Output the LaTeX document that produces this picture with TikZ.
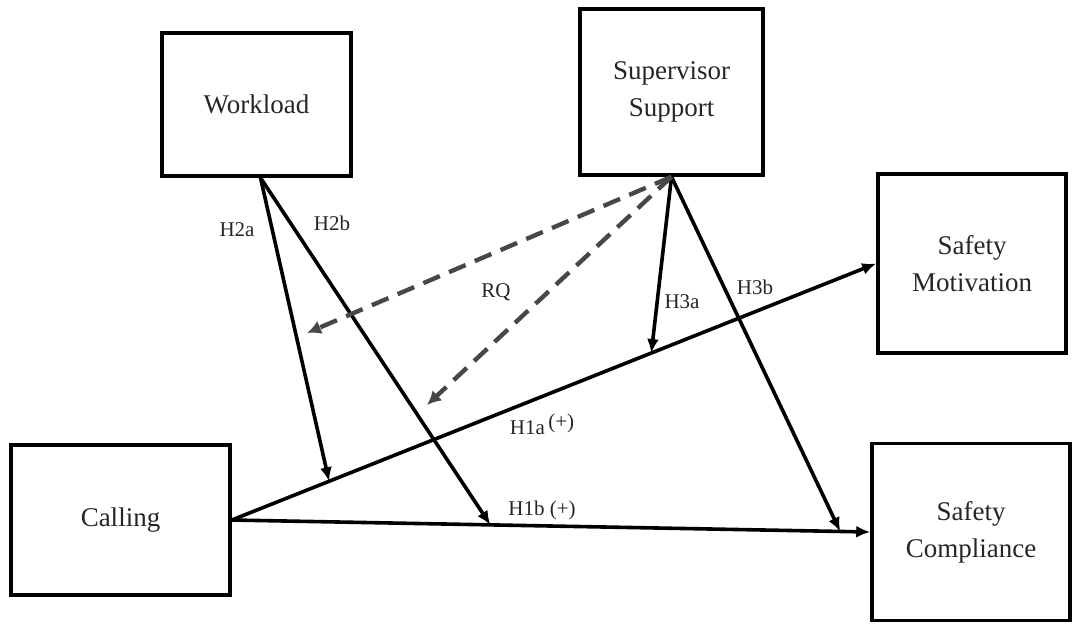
\documentclass[tikz,border=0pt]{standalone}
\usepackage{fontspec}
\setmainfont{Liberation Serif}
\usetikzlibrary{arrows.meta}

\tikzset{
  box/.style={draw, line width=1.8pt, align=center, inner sep=0pt,
    font=\fontsize{13.5}{18.5}\selectfont, text=black!85},
  lbl/.style={font=\fontsize{10.5}{12}\selectfont, text=black!85},
  path/.style={line width=1.8pt, -{Latex[length=7pt,width=6pt]}},
  rq/.style={line width=2.2pt, draw=black!72, dash pattern=on 9pt off 5pt,
    -{Latex[length=7pt,width=7pt]}}
}

\begin{document}
\begin{tikzpicture}[x=0.5pt, y=-0.5pt]
    \useasboundingbox (0, 0) rectangle (1075, 623);

    \node[box, minimum width=94.5pt, minimum height=71.5pt] (W) at (256.5, 104.5) {Workload};
    \node[box, minimum width=91.5pt, minimum height=83pt] (S) at (671.5, 92) {Supervisor\\Support};
    \node[box, minimum width=94pt, minimum height=89.5pt] (M) at (972, 263.5) {Safety\\Motivation};
    \node[box, minimum width=109.5pt, minimum height=75pt] (C) at (120.5, 520) {Calling};
    \node[box, minimum width=99pt, minimum height=88.5pt] (P) at (971, 532) {Safety\\Compliance};

    \draw[path] (C.east) -- coordinate[pos=0.151] (ha) coordinate[pos=0.651] (hc) (M.west);
    \draw[path] (C.east) -- coordinate[pos=0.405] (hb) coordinate[pos=0.953] (hd) (P.west);

    \draw[path] ([xshift=2pt]W.south) -- (ha);
    \draw[path] ([xshift=2pt]W.south) -- (hb);
    \draw[path] (S.south) -- (hc);
    \draw[path] (S.south) -- (hd);

    \coordinate (r1) at (307, 333);
    \coordinate (r2) at (427, 405);
    \draw[rq] (S.south) -- (r1);
    \draw[rq] (S.south) -- (r2);

    \node[lbl] (l2a) at (237, 230) {H2a};
    \node[lbl] (l2b) at (332, 223) {H2b};
    \node[lbl] (l3a) at (682, 302) {H3a};
    \node[lbl] (l3b) at (755, 287) {H3b};
    \node[lbl] (lrq) at (496, 292) {RQ};
    \node[lbl] (l1a) at (542, 424) {H1a\,\raisebox{0.6ex}{(+)}};
    \node[lbl] (l1b) at (542, 510) {H1b (+)};
  \end{tikzpicture}
\end{document}
